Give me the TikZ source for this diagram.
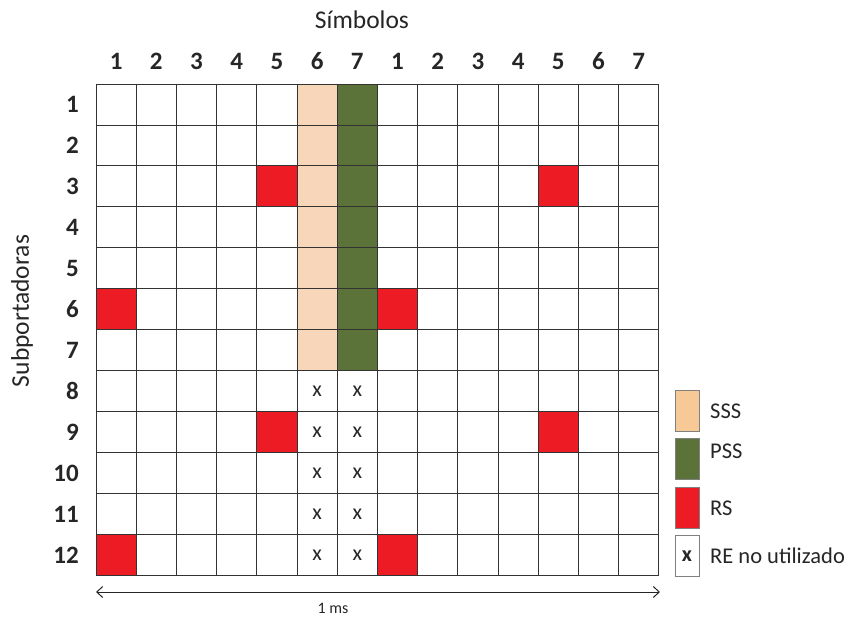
\documentclass[tikz,border=0pt]{standalone}
\usepackage{fontspec}
\setmainfont{Carlito}
\usetikzlibrary{arrows.meta}
\definecolor{sss}{HTML}{F8D6B9}
\definecolor{sssleg}{HTML}{F7C997}
\definecolor{pss}{HTML}{5B7239}
\definecolor{rs}{HTML}{ED1C24}
\definecolor{gridc}{HTML}{333333}
\tikzset{
  cell/.style={draw=gridc, line width=0.9pt, minimum width=40.2pt, minimum height=40.97pt, inner sep=0pt, outer sep=0pt},
  hdr/.style={font=\fontsize{25}{25}\selectfont\bfseries, text=black!85, inner sep=0pt},
  rowlab/.style={font=\fontsize{25}{25}\selectfont\bfseries, text=black!85, anchor=east, inner sep=0pt},
  title/.style={font=\fontsize{25.5}{25.5}\selectfont, text=black!85, inner sep=0pt},
  legbox/.style={draw=gray, line width=0.9pt, minimum width=24pt, minimum height=41pt, inner sep=0pt},
  legtxt/.style={font=\fontsize{22.5}{22.5}\selectfont, text=black!85, anchor=west, inner sep=0pt},
  xmark/.style={font=\fontsize{22}{22}\selectfont, text=black!85, inner sep=0pt},
  span/.style={{Straight Barb[length=6pt,width=11pt]}-{Straight Barb[length=6pt,width=11pt]}, line width=1pt, black!85}
}
\begin{document}
\begin{tikzpicture}[x=1pt,y=-1pt]
\useasboundingbox (0,0) rectangle (849,620);
\def\cw{40.2}
\def\ch{40.97}
% grid
\foreach \c in {1,...,14}{
  \foreach \r in {1,...,12}{
    \node[cell] (c\c-\r) at ({96+(\c-0.5)*\cw},{84+(\r-0.5)*\ch}) {};
  }
}
% SSS and PSS columns
\foreach \r in {1,...,7}{
  \node[cell, fill=sss] at (c6-\r) {};
  \node[cell, fill=pss] at (c7-\r) {};
}
% RS cells
\foreach \c/\r in {5/3,12/3,1/6,8/6,5/9,12/9,1/12,8/12}{
  \node[cell, fill=rs] at (c\c-\r) {};
}
% unused REs
\foreach \r in {8,...,12}{
  \node[xmark] (x6-\r) at (c6-\r) {x};
  \node[xmark] (x7-\r) at (c7-\r) {x};
}
% column headers
\foreach \c in {1,...,14}{
  \pgfmathtruncatemacro{\n}{mod(\c-1,7)+1}
  \node[hdr] (h\c) at ({96+(\c-0.5)*\cw},61) {\n};
}
% row labels
\foreach \r in {1,...,12}{
  \node[rowlab] (r\r) at (79,{84+(\r-0.5)*\ch}) {\r};
}
\node[title] (sim) at (362,20) {Símbolos};
\node[title, rotate=90] (sub) at (22,311) {Subportadoras};
% legend
\node[legbox, fill=sssleg] (lsss) at (687,411) {};
\node[legbox, fill=pss] (lpss) at (687,458.5) {};
\node[legbox, fill=rs] (lrs) at (687,507.5) {};
\node[legbox, fill=white] (lre) at (687,556) {};
\node[xmark, font=\fontsize{22}{22}\selectfont\bfseries] (lrex) at (lre) {x};
\node[legtxt] (tsss) at (710,411) {SSS};
\node[legtxt] (tpss) at (710,451) {PSS};
\node[legtxt] (trs) at (710,508) {RS};
\node[legtxt] (tre) at (710,556) {RE no utilizado};
% time span arrow
\coordinate (aL) at (96,592);
\coordinate (aR) at (660,592);
\draw[span] (aL) -- (aR);
\node[font=\fontsize{16}{16}\selectfont, text=black!85] (ms) at (333,608) {1 ms};
\end{tikzpicture}
\end{document}
